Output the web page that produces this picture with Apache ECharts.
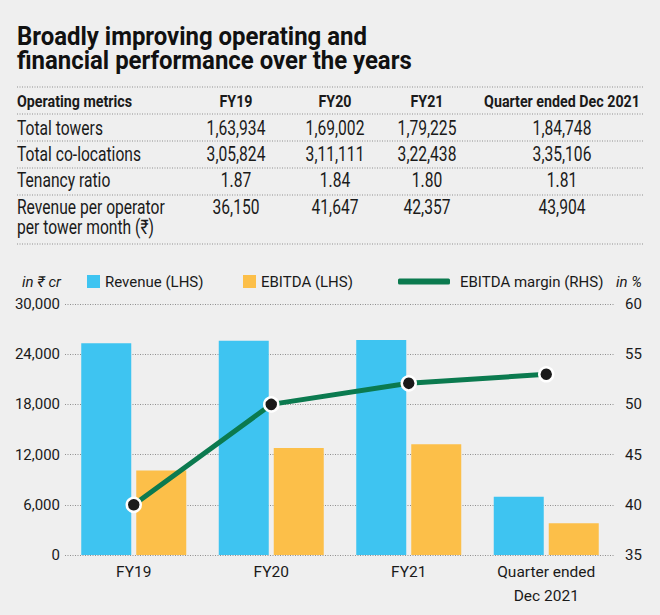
<!DOCTYPE html>
<html>
<head>
<meta charset="utf-8">
<script src="https://cdn.jsdelivr.net/npm/echarts@6/dist/echarts.min.js"></script>
<style>
html,body{margin:0;padding:0;background:#efefef;}
#chart{width:660px;height:615px;}
</style>
</head>
<body>
<div id="chart"></div>
<script>
// ---------- DATA ----------
const titleLines = ['Broadly improving operating and', 'financial performance over the years'];
const tableHeader = ['Operating metrics', 'FY19', 'FY20', 'FY21', 'Quarter ended Dec 2021'];
const rowTowers = ['Total towers', '1,63,934', '1,69,002', '1,79,225', '1,84,748'];
const rowColocations = ['Total co-locations', '3,05,824', '3,11,111', '3,22,438', '3,35,106'];
const rowTenancy = ['Tenancy ratio', '1.87', '1.84', '1.80', '1.81'];
const rowRevenuePerOp = ['Revenue per operator\nper tower month (₹)', '36,150', '41,647', '42,357', '43,904'];

const categories = ['FY19', 'FY20', 'FY21', 'Quarter ended\nDec 2021'];
const revenue = [25300, 25600, 25700, 6950];
const ebitda = [10100, 12800, 13250, 3800];
const ebitdaMargin = [40.0, 50.0, 52.1, 53.0];

const seriesNames = ['Revenue (LHS)', 'EBITDA (LHS)', 'EBITDA margin (RHS)'];
const leftUnit = 'in ₹ cr';
const rightUnit = 'in %';
const leftAxisRange = [0, 30000, 6000];
const rightAxisRange = [35, 60, 5];

// ---------- STYLE ----------
const FONT = 'Roboto, "Liberation Sans", "Noto Sans", sans-serif';
const TXT = '#1a1a1a';
const BLUE = '#3ec4f1';
const ORANGE = '#fcbf49';
const GREEN = '#0b7a4f';
const DOT = '#8f8f8f';

// horizontal condensing factor so that a sample string reaches a target width
const measureCtx = document.createElement('canvas').getContext('2d');
function fitScale(font, sample, target) {
  measureCtx.font = font;
  return target / measureCtx.measureText(sample).width;
}
const titleFont = 'bold 25px ' + FONT;
const headFont = 'bold 16.5px ' + FONT;
const bodyFont = '20px ' + FONT;
const titleScale = fitScale(titleFont, titleLines[0], 350);
const headScale = fitScale(headFont, tableHeader[0], 115);
const bodyScale = fitScale(bodyFont, rowTowers[0], 86);

const chart = echarts.init(document.getElementById('chart'), null, {renderer: 'svg'});

const graphics = [];
// title
titleLines.forEach((t, i) => {
  graphics.push({type: 'text', x: 17, y: 36 + i * 24, scaleX: titleScale,
    style: {text: t, fill: '#111', font: titleFont, align: 'left', verticalAlign: 'middle'}});
});
// table lines
[87, 114, 141, 168, 195, 244].forEach(y => {
  graphics.push({type: 'line', shape: {x1: 17, y1: y, x2: 644, y2: y},
    style: {stroke: DOT, lineWidth: 1, lineDash: [1, 1.5]}});
});
const colX = [17, 236, 335, 427, 562];
tableHeader.forEach((t, i) => {
  graphics.push({type: 'text', x: colX[i], y: 102, scaleX: headScale,
    style: {text: t, fill: TXT, font: headFont, align: i === 0 ? 'left' : 'center', verticalAlign: 'middle'}});
});
const rows = [rowTowers, rowColocations, rowTenancy, rowRevenuePerOp];
const rowY = [128, 154, 180, 207];
rows.forEach((r, ri) => {
  r.forEach((t, i) => {
    graphics.push({type: 'text', x: colX[i], y: ri === 3 ? 197 : rowY[ri], scaleX: bodyScale,
      style: {text: t, fill: TXT, font: bodyFont, lineHeight: 20,
        align: i === 0 ? 'left' : 'center', verticalAlign: ri === 3 ? 'top' : 'middle'}});
  });
});
// units
graphics.push({type: 'text', x: 61, y: 282,
  style: {text: leftUnit, fill: TXT, font: 'italic 15px ' + FONT, align: 'right', verticalAlign: 'middle'}});
graphics.push({type: 'text', x: 642, y: 282,
  style: {text: rightUnit, fill: TXT, font: 'italic 15px ' + FONT, align: 'right', verticalAlign: 'middle'}});

const legendText = {color: TXT, fontSize: 15, fontFamily: FONT};

chart.setOption({
  backgroundColor: '#efefef',
  animation: false,
  graphic: graphics,
  legend: [
    {data: [seriesNames[0]], left: 87, top: 274, padding: 0, icon: 'rect', itemWidth: 13, itemHeight: 13,
      textStyle: legendText, selectedMode: false},
    {data: [seriesNames[1]], left: 243, top: 274, padding: 0, icon: 'rect', itemWidth: 13, itemHeight: 13,
      textStyle: legendText, selectedMode: false},
    {data: [{name: seriesNames[2], itemStyle: {color: GREEN, borderWidth: 0}}], left: 398, top: 274, padding: 0,
      icon: 'roundRect', itemWidth: 52, itemHeight: 6,
      textStyle: Object.assign({padding: [0, 0, 0, 5]}, legendText), selectedMode: false}
  ],
  grid: {left: 65, right: 45, top: 304, bottom: 60},
  xAxis: {
    type: 'category', data: categories,
    axisLine: {show: false}, axisTick: {show: false},
    axisLabel: {interval: 0, color: TXT, fontSize: 15.5, fontFamily: FONT, lineHeight: 24, margin: 5}
  },
  yAxis: [
    {type: 'value', min: leftAxisRange[0], max: leftAxisRange[1], interval: leftAxisRange[2],
      axisLine: {show: false}, axisTick: {show: false},
      axisLabel: {color: TXT, fontSize: 15, fontFamily: FONT, margin: 5,
        formatter: v => v.toLocaleString('en-US')},
      splitLine: {show: true, lineStyle: {color: DOT, width: 1, type: [1, 1.5]}}},
    {type: 'value', min: rightAxisRange[0], max: rightAxisRange[1], interval: rightAxisRange[2],
      axisLine: {show: false}, axisTick: {show: false},
      axisLabel: {color: TXT, fontSize: 15, fontFamily: FONT, margin: 10},
      splitLine: {show: false}}
  ],
  series: [
    {name: seriesNames[0], type: 'bar', data: revenue, barWidth: 50, barGap: '10%', itemStyle: {color: BLUE}},
    {name: seriesNames[1], type: 'bar', data: ebitda, barWidth: 50, barGap: '10%', itemStyle: {color: ORANGE}},
    {name: seriesNames[2], type: 'line', yAxisIndex: 1, data: ebitdaMargin, z: 5,
      color: GREEN,
      lineStyle: {color: GREEN, width: 5},
      symbol: 'circle', symbolSize: 14,
      itemStyle: {color: '#1a1a1a', borderColor: '#ffffff', borderWidth: 2.5}}
  ]
});
</script>
</body>
</html>
